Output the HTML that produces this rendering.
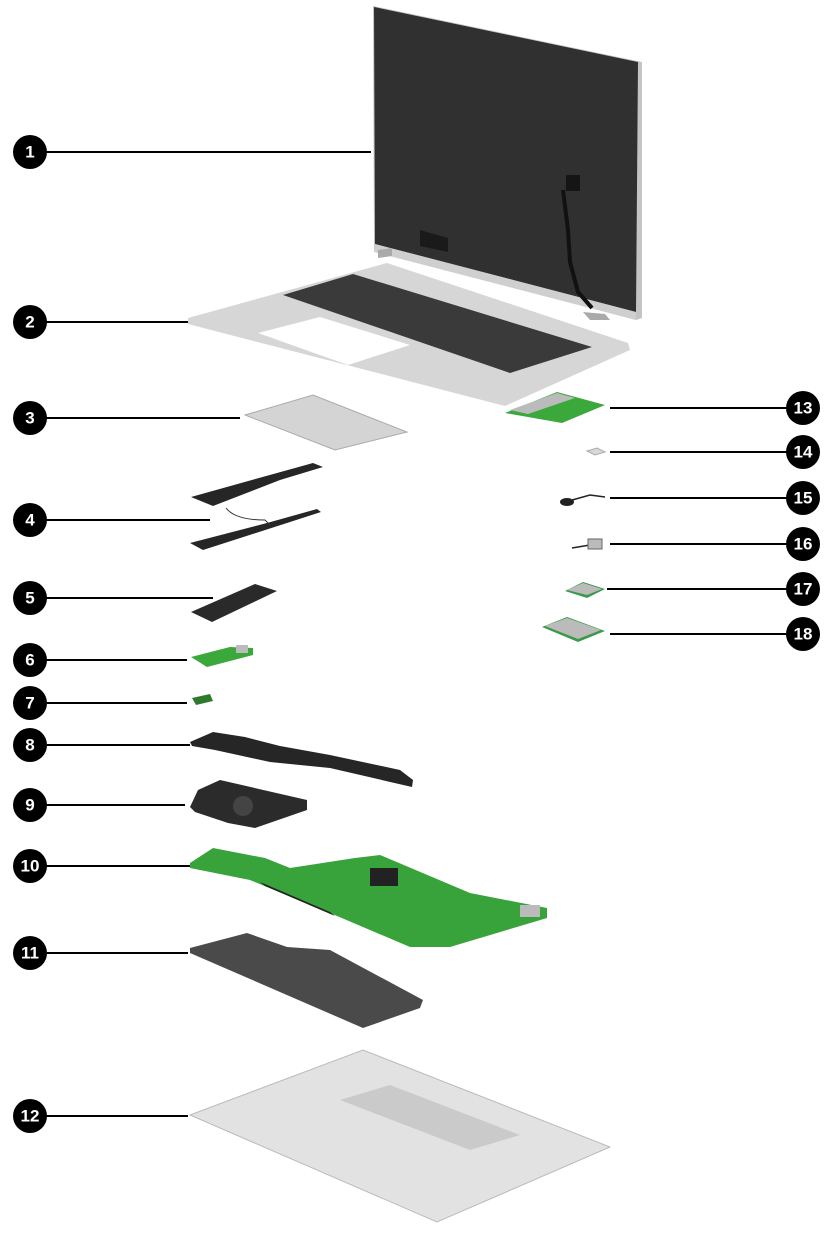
<!DOCTYPE html>
<html><head><meta charset="utf-8"><style>
html,body{margin:0;padding:0;background:#fff;width:833px;height:1250px;overflow:hidden}
svg{display:block}
text{font-family:"Liberation Sans",sans-serif;font-weight:bold;fill:#fff;font-size:17px;text-anchor:middle;dominant-baseline:central}
</style></head><body>
<svg width="833" height="1250" viewBox="0 0 833 1250">
<!-- display -->
<polygon points="373,6 642,62 642,318 636,320 374,250" fill="#c4c4c4"/>
<polygon points="374,7 638,62 636,312 375,244" fill="#303030"/>
<polygon points="375,244 636,312 636,320 374,252" fill="#cfcfcf"/>
<polygon points="420,230 448,238 448,252 420,246" fill="#1a1a1a"/>
<path d="M563,190 L568,230 L570,262 L578,292 L592,308" stroke="#111" stroke-width="4" fill="none"/>
<rect x="566" y="175" width="14" height="16" fill="#151515"/>
<polygon points="378,250 392,248 392,256 378,258" fill="#aaa"/>
<polygon points="583,312 605,314 610,320 590,320" fill="#aaa"/>
<!-- base deck -->
<polygon points="188,318 387,263 628,343 630,350 505,406 188,324" fill="#d6d6d6"/>
<polygon points="283,295 353,274 592,347 510,373" fill="#3a3a3a"/>
<polygon points="258,333 320,317 410,345 348,365" fill="#fff"/>
<!-- 3 touchpad bracket -->
<polygon points="245,415 313,395 407,432 335,450" fill="#d4d4d4" stroke="#aaa"/>
<!-- 4 speakers -->
<polygon points="191,497 277,473 313,463 323,467 280,480 213,506" fill="#262626"/>
<polygon points="190,543 267,523 317,509 321,512 203,550" fill="#262626"/>
<path d="M226,508 Q235,520 265,520 L270,525" stroke="#333" fill="none"/>
<!-- 5 SSD -->
<polygon points="191,612 255,584 277,591 212,622" fill="#2a2a2a"/>
<!-- 6 board -->
<polygon points="191,657 230,647 253,648 253,655 207,667" fill="#3aa83a"/>
<rect x="236" y="645" width="12" height="8" fill="#bbb"/>
<!-- 7 -->
<polygon points="192,698 210,694 213,701 196,705" fill="#2d7a2d"/>
<!-- 8 heatpipe -->
<polygon points="190,742 213,732 245,737 280,746 330,755 400,770 413,780 412,787 330,768 270,762 215,750 192,746" fill="#262626"/>
<!-- 9 fan -->
<polygon points="190,807 198,790 220,780 307,800 307,810 255,828 228,823 195,812" fill="#2b2b2b"/>
<circle cx="243" cy="806" r="10" fill="#444"/>
<!-- 10 motherboard -->
<polygon points="190,863 213,848 265,858 290,868 355,858 380,855 470,893 547,908 547,918 450,947 410,947 330,913 250,880 190,868" fill="#37a33a"/>
<rect x="370" y="868" width="28" height="18" fill="#222"/>
<polygon points="260,882 330,912 335,916 265,886" fill="#222"/>
<rect x="520" y="905" width="20" height="12" fill="#bbb"/>
<!-- 11 battery -->
<polygon points="190,948 247,933 287,947 330,950 423,1000 420,1008 363,1028 190,953" fill="#4a4a4a"/>
<!-- 12 bottom cover -->
<polygon points="190,1115 363,1050 610,1147 437,1222" fill="#e2e2e2" stroke="#bbb"/>
<polygon points="340,1100 390,1085 520,1135 470,1150" fill="#cacaca"/>
<!-- right parts -->
<polygon points="505,413 557,392 605,405 562,423" fill="#3aa83a"/>
<polygon points="510,410 557,393 575,398 528,414" fill="#bbb"/>
<polygon points="587,451 597,448 605,452 595,455" fill="#d8d8d8" stroke="#aaa"/>
<path d="M565,502 L590,495 L605,497" stroke="#222" stroke-width="1.5" fill="none"/><ellipse cx="567" cy="502" rx="7" ry="4" fill="#222"/>
<path d="M572,548 L590,545" stroke="#222" stroke-width="1.5"/><rect x="588" y="539" width="14" height="10" fill="#bbb" stroke="#666"/>
<polygon points="565,591 583,582 605,589 587,598" fill="#3a9a4a"/><polygon points="567,590 583,583 602,589 587,595" fill="#bbb"/>
<polygon points="542,627 567,617 605,631 578,642" fill="#3a9a4a"/><polygon points="545,626 567,618 601,630 578,639" fill="#bbb"/>
<!-- leader lines -->
<g stroke="#000" stroke-width="2">
<line x1="30" y1="152" x2="371" y2="152"/><line x1="30" y1="322" x2="188" y2="322"/>
<line x1="30" y1="418" x2="240" y2="418"/><line x1="30" y1="520" x2="210" y2="520"/>
<line x1="30" y1="598" x2="213" y2="598"/><line x1="30" y1="660" x2="187" y2="660"/>
<line x1="30" y1="703" x2="187" y2="703"/><line x1="30" y1="745" x2="190" y2="745"/>
<line x1="30" y1="805" x2="185" y2="805"/><line x1="30" y1="866" x2="190" y2="866"/>
<line x1="30" y1="953" x2="188" y2="953"/><line x1="30" y1="1116" x2="188" y2="1116"/>
<line x1="610" y1="408" x2="803" y2="408"/><line x1="610" y1="452" x2="803" y2="452"/>
<line x1="610" y1="498" x2="803" y2="498"/><line x1="610" y1="544" x2="803" y2="544"/>
<line x1="607" y1="589" x2="803" y2="589"/><line x1="610" y1="634" x2="803" y2="634"/>
</g>
<g fill="#000">
<circle cx="30" cy="152" r="17"/><circle cx="30" cy="322" r="17"/><circle cx="30" cy="418" r="17"/>
<circle cx="30" cy="520" r="17"/><circle cx="30" cy="598" r="17"/><circle cx="30" cy="660" r="17"/>
<circle cx="30" cy="703" r="17"/><circle cx="30" cy="745" r="17"/><circle cx="30" cy="805" r="17"/>
<circle cx="30" cy="866" r="17"/><circle cx="30" cy="953" r="17"/><circle cx="30" cy="1116" r="17"/>
<circle cx="803" cy="408" r="17"/><circle cx="803" cy="452" r="17"/><circle cx="803" cy="498" r="17"/>
<circle cx="803" cy="544" r="17"/><circle cx="803" cy="589" r="17"/><circle cx="803" cy="634" r="17"/>
</g>
<text x="30" y="152">1</text><text x="30" y="322">2</text><text x="30" y="418">3</text>
<text x="30" y="520">4</text><text x="30" y="598">5</text><text x="30" y="660">6</text>
<text x="30" y="703">7</text><text x="30" y="745">8</text><text x="30" y="805">9</text>
<text x="30" y="866">10</text><text x="30" y="953">11</text><text x="30" y="1116">12</text>
<text x="803" y="408">13</text><text x="803" y="452">14</text><text x="803" y="498">15</text>
<text x="803" y="544">16</text><text x="803" y="589">17</text><text x="803" y="634">18</text>
</svg>
</body></html>
